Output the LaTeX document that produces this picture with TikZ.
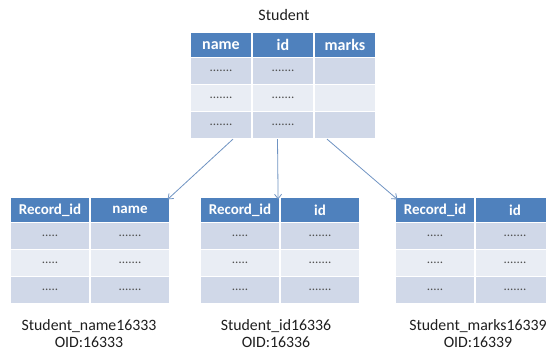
\documentclass[tikz,border=0pt]{standalone}
\usepackage{fontspec}
\setmainfont{Carlito}
\usetikzlibrary{arrows.meta}

\definecolor{hdrblue}{HTML}{4F81BD}
\definecolor{rowdark}{HTML}{D0D8E8}
\definecolor{rowlight}{HTML}{E9EDF4}
\definecolor{dotgrey}{HTML}{505050}
\definecolor{linkblue}{HTML}{6F93C2}
\definecolor{labelgrey}{HTML}{1E1E1E}

% placeholder contents of the cells
\newcommand\longdots{.......}
\newcommand\shortdots{.....}

\tikzset{
  cell/.style={draw=white, line width=1.2pt, inner sep=0pt, anchor=center},
  hdr/.style={cell, fill=hdrblue, text=white, font=\bfseries\fontsize{15}{18}\selectfont},
  bodycell/.style={cell, text=dotgrey, font=\fontsize{13}{15}\selectfont},
  caption/.style={text=labelgrey, align=center, font=\fontsize{15.8}{17}\selectfont},
  link/.style={draw=linkblue, line width=0.8pt, -{Straight Barb[length=4.5pt,width=7pt]}},
}

\begin{document}
\begin{tikzpicture}[x=1pt, y=-1pt]
\useasboundingbox (0,0) rectangle (546,356);
\clip (0,0) rectangle (546,356);

% ---- source table: Student ----
\node[caption, font=\fontsize{16}{18}\selectfont] (title) at (284,15) {Student};
\foreach \t [count=\j] in {name,id,marks}
  \node[hdr, font=\bfseries\fontsize{16}{18}\selectfont,
        minimum width=62pt, minimum height=25pt]
       (S-h\j) at ({190+62*\j-31}, 45.3) {\t};
\foreach \i in {1,2,3} {
  \pgfmathsetmacro{\yc}{57.8+26.9*(\i-0.5)}
  \pgfmathtruncatemacro{\odd}{mod(\i,2)}
  \ifnum\odd=1 \def\rowfill{rowdark}\else \def\rowfill{rowlight}\fi
  \foreach \t [count=\j] in {\longdots,\longdots,{}}
    \node[bodycell, fill=\rowfill, minimum width=62pt, minimum height=26.9pt]
         (S-r\i c\j) at ({190+62*\j-31}, \yc) {\t};
}

% ---- split tables ----
\foreach \tab/\x/\colname in {L/10/name, M/200/id, R/395/id} {
  \node[hdr, minimum width=80pt, minimum height=25pt]
       (\tab-h1) at ({\x+40}, 210) {Record\_id};
  \node[hdr, minimum width=80pt, minimum height=25pt]
       (\tab-h2) at ({\x+120}, 210) {\colname};
  \foreach \i in {1,2,3} {
    \pgfmathsetmacro{\yc}{222.5+26.9*(\i-0.5)}
    \pgfmathtruncatemacro{\odd}{mod(\i,2)}
    \ifnum\odd=1 \def\rowfill{rowdark}\else \def\rowfill{rowlight}\fi
    \node[bodycell, fill=\rowfill, minimum width=80pt, minimum height=26.9pt]
         (\tab-r\i c1) at ({\x+40}, \yc) {\shortdots};
    \node[bodycell, fill=\rowfill, minimum width=80pt, minimum height=26.9pt]
         (\tab-r\i c2) at ({\x+120}, \yc) {\longdots};
  }
}

% ---- captions under the split tables ----
\node[caption] (capL) at (89,334) {Student\_name16333\\OID:16333};
\node[caption] (capM) at (276,334) {Student\_id16336\\OID:16336};
\node[caption] (capR) at (478,334) {Student\_marks16339\\OID:16339};

% ---- links from source columns to split tables ----
\draw[link] ([xshift=12pt]S-r3c1.south) -- ([xshift=-3pt,yshift=-2.5pt]L-h2.north east);
\draw[link] ([xshift=-5.5pt]S-r3c2.south) -- ([xshift=-2.5pt,yshift=-2.5pt]M-h1.north east);
\draw[link] ([xshift=-18pt]S-r3c3.south) -- ([xshift=3pt,yshift=-2.5pt]R-h1.north west);
\end{tikzpicture}
\end{document}
